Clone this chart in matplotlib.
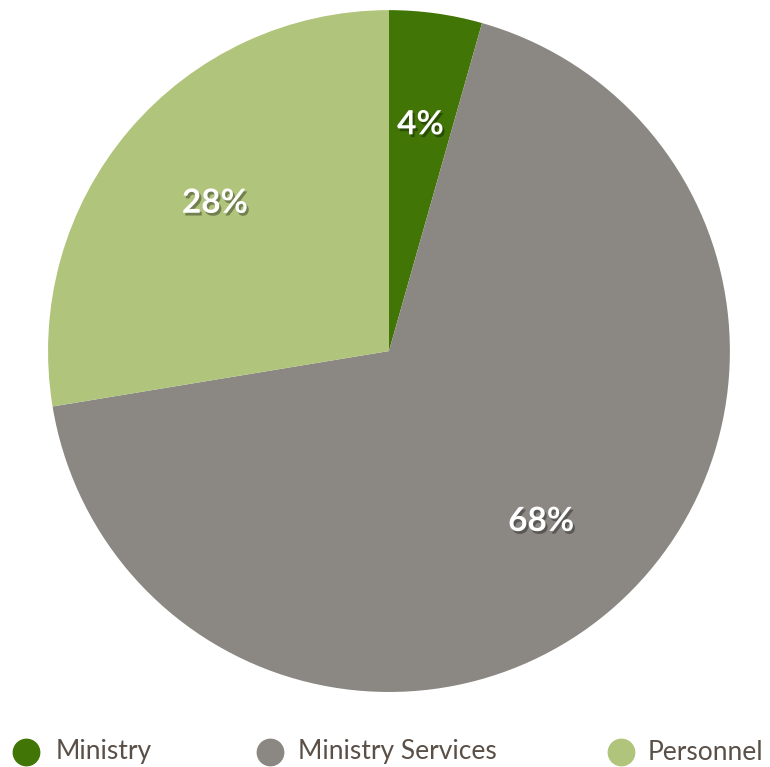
import matplotlib.pyplot as plt
import matplotlib.patheffects as pe
from matplotlib.lines import Line2D

labels = ["Ministry", "Ministry Services", "Personnel"]
values = [4.4, 68.0, 27.6]
colors = ["#417505", "#8b8884", "#b0c47b"]

plt.rcParams["font.family"] = ["Lato", "DejaVu Sans"]

W, H = 770, 767
fig = plt.figure(figsize=(W / 100, H / 100), dpi=100)
ax = fig.add_axes([0.0623, 0.0978, 0.8857, 0.889])

wedges, texts, autotexts = ax.pie(
    values,
    colors=colors,
    startangle=90,
    counterclock=False,
    autopct="%.0f%%",
    pctdistance=0.67,
    wedgeprops={"linewidth": 0},
)
for t in autotexts:
    t.set_color("white")
    t.set_fontsize(24)
    t.set_fontweight("bold")
    t.set_path_effects([
        pe.SimplePatchShadow(offset=(1.5, -2), alpha=0.35, shadow_rgbFace="black"),
        pe.Normal(),
    ])
ax.set_xlim(-1, 1)
ax.set_ylim(-1, 1)
ax.set_aspect("equal")

# legend drawn by hand so items sit where the reference has them
marker_x = [26, 270, 621]
text_x = [56, 298, 648]
leg_y = (H - 752) / H
for mx, tx, lab, c in zip(marker_x, text_x, labels, colors):
    fig.add_artist(Line2D([mx / W], [leg_y], transform=fig.transFigure,
                          marker="o", markersize=19, linestyle="",
                          markerfacecolor=c, markeredgecolor=c))
    fig.text(tx / W, leg_y, lab, fontsize=19, color="#5a5048",
             ha="left", va="center")

fig.savefig("out.png")
